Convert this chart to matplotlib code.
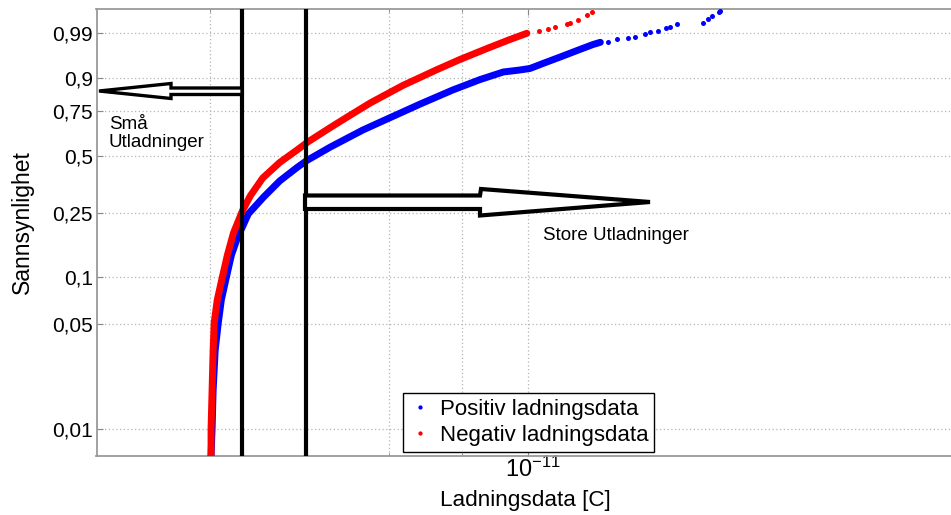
import numpy as np
import matplotlib
matplotlib.use('Agg')
import matplotlib.pyplot as plt
from matplotlib.ticker import FixedLocator, NullFormatter, FuncFormatter
from matplotlib.patches import Polygon
from matplotlib.transforms import ScaledTranslation

plt.rcParams['font.family'] = ['Liberation Sans', 'DejaVu Sans']

# ladning i pC (1e-12 C) og sannsynlighet, lest av figuren
pos_ladning = [6.01, 6.02, 6.03, 6.05, 6.08, 6.11, 6.16, 6.21, 6.28, 6.32,
               6.38, 6.54, 6.71, 6.90, 7.01, 7.28, 7.67, 7.89, 8.41, 8.86,
               9.26, 9.61, 9.87, 10.03, 10.24, 10.53, 10.82, 11.10, 11.23,
               11.37, 11.54, 11.74, 11.88, 12.07, 12.16, 12.32, 12.48, 12.56, 12.70,
               13.25, 13.34, 13.44, 13.58, 13.60]
pos_sanns = [0.0067, 0.0101, 0.0183, 0.0337, 0.0508, 0.0717, 0.1007, 0.1386, 0.1839, 0.2055,
             0.2452, 0.3064, 0.3742, 0.4387, 0.4746, 0.5475, 0.6436, 0.6889, 0.7861, 0.8527,
             0.8949, 0.9204, 0.9265, 0.9309, 0.9442, 0.9589, 0.9707, 0.9792, 0.9818,
             0.9825, 0.9850, 0.9865, 0.9875, 0.9893, 0.9907, 0.9915, 0.9930, 0.9936, 0.9949,
             0.9956, 0.9967, 0.9976, 0.9983, 0.9985]
pos_tett = 29   # punktene foer dette ligger saa tett at de danner et baand

neg_ladning = [6.01, 6.01, 6.02, 6.03, 6.04, 6.07, 6.12, 6.17, 6.23, 6.32,
               6.40, 6.53, 6.71, 6.90, 7.02, 7.28, 7.48, 7.76, 8.18, 8.64,
               8.96, 9.36, 9.71, 9.98,
               10.17, 10.33, 10.44, 10.64, 10.70, 10.84, 10.99, 11.08]
neg_sanns = [0.0067, 0.0101, 0.0183, 0.0337, 0.0508, 0.0717, 0.1007, 0.1386, 0.1891, 0.2552,
             0.3104, 0.3879, 0.4641, 0.5310, 0.5755, 0.6578, 0.7167, 0.7912, 0.8722, 0.9277,
             0.9534, 0.9737, 0.9847, 0.9900,
             0.9915, 0.9926, 0.9939, 0.9950, 0.9956, 0.9965, 0.9978, 0.9983]
neg_tett = 24

grense_sma = 6.32    # pC
grense_store = 7.0   # pC

y_ticks = [0.01, 0.05, 0.1, 0.25, 0.5, 0.75, 0.9, 0.99]
y_ticklabels = ['0,01', '0,05', '0,1', '0,25', '0,5', '0,75', '0,9', '0,99']
x_major = [1e-11]
x_minor = [6e-12, 7e-12, 8e-12, 9e-12]


def wbl_fram(p):
    p = np.clip(np.asarray(p, dtype=float), 1e-9, 1 - 1e-9)
    return np.log(-np.log(1 - p))


def wbl_tilbake(z):
    return 1 - np.exp(-np.exp(z))


W, H = 951, 515


def px(x, y):
    # pikselposisjon (fra oevre venstre hjoerne) -> figurbroek
    return (x / W, 1 - y / H)


fig = plt.figure(figsize=(W / 100, H / 100), dpi=100)
ax = fig.add_axes([96.5 / W, (H - 455.7) / H, (959.7 - 96.5) / W, 446.7 / H])

ax.set_xscale('log')
ax.set_yscale('function', functions=(wbl_fram, wbl_tilbake))
ax.set_xlim(5e-12, 2e-11)
ax.set_ylim(0.006662, 0.998777)

blaa = '#0000ff'
roed = '#ff0000'
q_pos = np.array(pos_ladning) * 1e-12
q_neg = np.array(neg_ladning) * 1e-12

ax.plot(q_pos[:pos_tett], pos_sanns[:pos_tett], '-', color=blaa, lw=5.0,
        solid_capstyle='round', solid_joinstyle='round', zorder=3)
ax.plot(q_pos[pos_tett - 1:], pos_sanns[pos_tett - 1:], 'o', color=blaa, ms=3.6,
        mew=0, zorder=3, label='Positiv ladningsdata')
ax.plot(q_neg[:neg_tett], neg_sanns[:neg_tett], '-', color=roed, lw=5.0,
        solid_capstyle='round', solid_joinstyle='round', zorder=4)
ax.plot(q_neg[neg_tett - 1:], neg_sanns[neg_tett - 1:], 'o', color=roed, ms=3.6,
        mew=0, zorder=4, label='Negativ ladningsdata')

ax.axvline(grense_sma * 1e-12, color='black', lw=3.0, zorder=5)
ax.axvline(grense_store * 1e-12, color='black', lw=3.0, zorder=5)

# akser og rutenett i MATLAB-stil
ax.yaxis.set_major_locator(FixedLocator(y_ticks))
ax.set_yticklabels(y_ticklabels)
ax.yaxis.set_minor_locator(FixedLocator([]))
ax.xaxis.set_major_locator(FixedLocator(x_major))
ax.xaxis.set_minor_locator(FixedLocator(x_minor))
ax.xaxis.set_major_formatter(FuncFormatter(
    lambda v, pos: r'$\mathregular{10^{%d}}$' % round(np.log10(v))))
ax.xaxis.set_minor_formatter(NullFormatter())

grid_kw = dict(color='#b4b4b4', linestyle=(0, (1, 2)), linewidth=0.9)
ax.grid(True, which='major', axis='both', **grid_kw)
ax.grid(True, which='minor', axis='x', **grid_kw)
ax.set_axisbelow(True)

ax.tick_params(which='both', direction='in', top=True, right=False, color='#888888')
ax.tick_params(which='major', length=4, width=0.8)
ax.tick_params(which='minor', length=2.5, width=0.7)
ax.tick_params(axis='y', labelsize=15, pad=2.5)
ax.tick_params(axis='x', labelsize=17, pad=1.0)
forskyv = ScaledTranslation(5 / 100, 0, fig.dpi_scale_trans)
for t in ax.xaxis.get_major_ticks():
    t.label1.set_transform(t.label1.get_transform() + forskyv)
for s in ax.spines.values():
    s.set_color('#9a9a9a')
    s.set_linewidth(1.3)

fig.text(*px(22, 222), 'Sannsynlighet', rotation=90, ha='center', va='center', fontsize=16.5)
fig.text(*px(525, 506), 'Ladningsdata [C]', ha='center', va='baseline', fontsize=16.2)

ax.legend(loc='upper left', bbox_to_anchor=px(403, 393), bbox_transform=fig.transFigure,
          borderaxespad=0, fontsize=16, frameon=True, fancybox=False, framealpha=1,
          edgecolor='black', handlelength=1.0, handletextpad=0.4, borderpad=0.25,
          labelspacing=0.25, markerscale=0.85)

# hule blokkpiler
pil_venstre = [px(242, 88), px(171, 88), px(171, 83.5), px(99, 91),
               px(171, 98.5), px(171, 94.5), px(242, 94.5)]
pil_hoeyre = [px(305, 195.5), px(480, 195.5), px(481, 189), px(650, 202),
              px(480, 215.5), px(480, 209), px(305, 209)]
for pts, lw in [(pil_venstre, 2.4), (pil_hoeyre, 3.0)]:
    fig.add_artist(Polygon(pts, closed=True, facecolor='white', edgecolor='black',
                           lw=lw, joinstyle='miter', transform=fig.transFigure, zorder=6))

fig.text(*px(109, 129), 'Små', fontsize=13.5, va='baseline')
fig.text(*px(109, 147), 'Utladninger', fontsize=13.5, va='baseline')
fig.text(*px(543, 240), 'Store Utladninger', fontsize=13.5, va='baseline')

fig.savefig('out.png', dpi=100)
